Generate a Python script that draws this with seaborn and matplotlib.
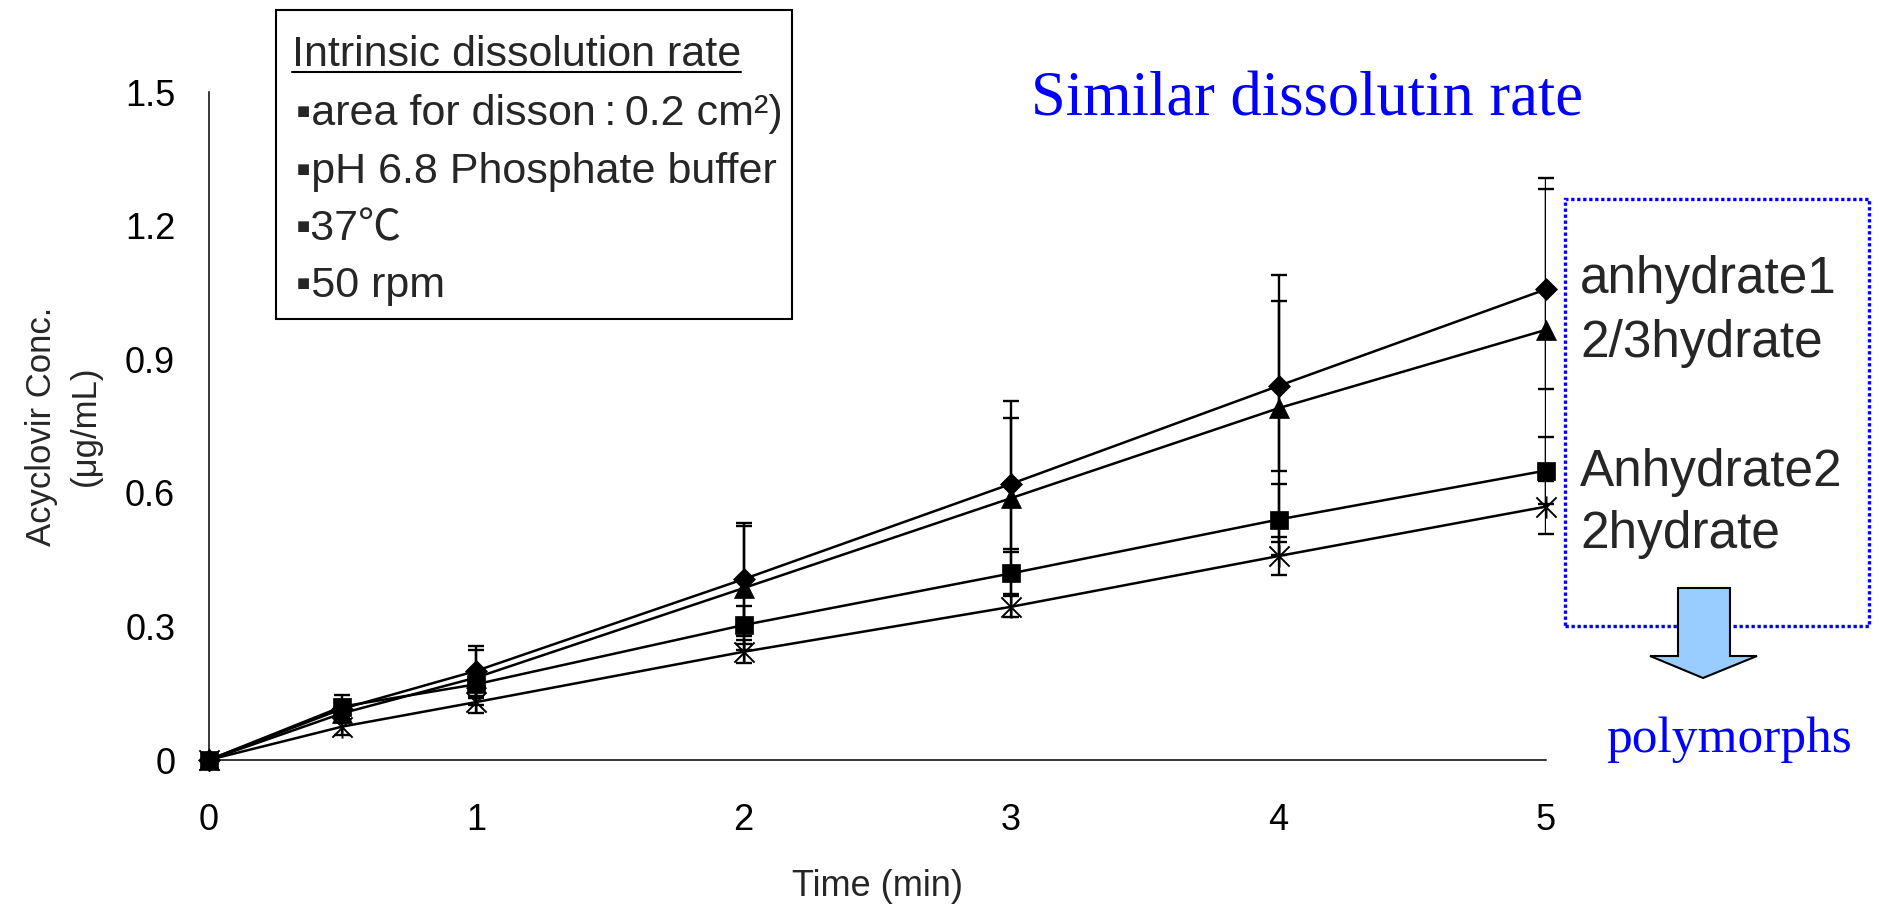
import matplotlib
matplotlib.use("Agg")
import matplotlib.pyplot as plt
from matplotlib.path import Path
from matplotlib.patches import Rectangle, Polygon
from matplotlib.lines import Line2D
import seaborn as sns
import pandas as pd

# data
time_min = [0, 0.5, 1, 2, 3, 4, 5]
anhydrate1 = [0, 0.115, 0.200, 0.406, 0.620, 0.840, 1.057]
anhydrate1_sd = [0, 0.020, 0.057, 0.127, 0.147, 0.190, 0.225]
hydrate_23 = [0, 0.105, 0.185, 0.386, 0.588, 0.790, 0.966]
hydrate_23_sd = [0, 0.020, 0.062, 0.139, 0.218, 0.300, 0.340]
anhydrate2 = [0, 0.120, 0.170, 0.303, 0.419, 0.540, 0.650]
anhydrate2_sd = [0, 0.026, 0.030, 0.043, 0.047, 0.080, 0.076]
hydrate_2 = [0, 0.075, 0.130, 0.243, 0.344, 0.458, 0.569]
hydrate_2_sd = [0, 0.018, 0.024, 0.026, 0.024, 0.043, 0.061]

y_ticks = [0, 0.3, 0.6, 0.9, 1.2, 1.5]
y_tick_labels = ["0", "0.3", "0.6", "0.9", "1.2", "1.5"]
x_ticks = [0, 1, 2, 3, 4, 5]

box_lines = ["▪area for disson\u2009:\u20090.2 cm²)", "▪pH 6.8 Phosphate buffer", "▪37℃", "▪50 rpm"]
series_names = ["anhydrate1", "2/3hydrate", "Anhydrate2", "2hydrate"]

W, H = 1879, 905


def fx(px):
    return px / W


def fy(py):
    return 1 - py / H


sns.set_theme(style="white")
plt.rcParams['font.family'] = ['Liberation Sans', 'Noto Sans CJK JP', 'DejaVu Sans']

# excel-like star marker: X plus vertical bar
star = Path([(-0.5, -0.5), (0.5, 0.5), (-0.5, 0.5), (0.5, -0.5), (0, -0.55), (0, 0.55)],
            [Path.MOVETO, Path.LINETO, Path.MOVETO, Path.LINETO, Path.MOVETO, Path.LINETO])

df = pd.DataFrame({"time": time_min, "a1": anhydrate1, "h23": hydrate_23,
                   "a2": anhydrate2, "h2": hydrate_2})

fig = plt.figure(figsize=(W / 100, H / 100), dpi=100)
ax = fig.add_axes([fx(208.5), fy(760), fx(1546) - fx(208.5), fy(92) - fy(760)])

series = [
    ("a1", anhydrate1_sd, "D", 11, "black"),
    ("h23", hydrate_23_sd, "^", 15, "black"),
    ("a2", anhydrate2_sd, "s", 13, "black"),
    ("h2", hydrate_2_sd, star, 16, "none"),
]
for col, sd, mk, ms, fc in series:
    ax.errorbar(df["time"], df[col], yerr=sd, fmt="none", ecolor="black",
                elinewidth=1.7, capsize=6, capthick=1.7, zorder=2)
    sns.lineplot(data=df, x="time", y=col, ax=ax, color="black", linewidth=1.8,
                 marker=mk, markersize=ms, markerfacecolor=fc,
                 markeredgecolor="black", markeredgewidth=1.4 if fc == "none" else 0.5,
                 errorbar=None, zorder=3)

for ln in ax.lines:
    ln.set_clip_on(False)

ax.set_xlim(0, 5)
ax.set_ylim(0, 1.5)
ax.set_xticks(x_ticks)
ax.set_yticks(y_ticks)
ax.set_yticklabels(y_tick_labels)
sns.despine(ax=ax)
for s in ["left", "bottom"]:
    ax.spines[s].set_color("black")
    ax.spines[s].set_linewidth(1.1)
ax.tick_params(axis="both", direction="in", length=9, width=1.1, colors="black",
               labelsize=26)
ax.tick_params(axis="x", pad=31)
ax.tick_params(axis="y", pad=24)

ax.set_xlabel("Time (min)", fontsize=26)
ax.xaxis.set_label_coords(0.5, -0.163)
ax.set_ylabel("Acyclovir Conc.\n(μg/mL)", fontsize=25, linespacing=1.4)
ax.yaxis.set_label_coords(-0.08, 0.5)

# info box top-left
fig.patches.append(Rectangle((fx(276), fy(319)), fx(792) - fx(276), fy(10) - fy(319),
                             transform=fig.transFigure, fill=False, edgecolor="black",
                             linewidth=1.5))
head = fig.text(fx(292), fy(66), "Intrinsic dissolution rate", fontsize=31, va="baseline")
for i, txt in enumerate(box_lines):
    fig.text(fx(296), fy(125 + 57.5 * i), txt, fontsize=31, va="baseline")

# blue notes
fig.text(fx(1307), fy(115), "Similar dissolutin rate", fontsize=45, color="#0000FF",
         family="Liberation Serif", ha="center", va="baseline")
fig.text(fx(1729), fy(752), "polymorphs", fontsize=37, color="#0000FF",
         family="Liberation Serif", ha="center", va="baseline")

# dotted box with series names
fig.patches.append(Rectangle((fx(1565), fy(626)), fx(1869) - fx(1565), fy(199) - fy(626),
                             transform=fig.transFigure, fill=False, edgecolor="#0000FF",
                             linewidth=2.4, linestyle=(0, (1, 0.8)), zorder=1))
for name, base in zip(series_names, [293, 357, 486, 548]):
    fig.text(fx(1580), fy(base), name, fontsize=37, va="baseline")

arrow_px = [(1678, 588), (1730, 588), (1730, 656), (1757, 656), (1703, 678),
            (1650, 656), (1678, 656)]
fig.patches.append(Polygon([(fx(x), fy(y)) for x, y in arrow_px], closed=True,
                           transform=fig.transFigure, facecolor="#99CCFF",
                           edgecolor="black", linewidth=1.5, zorder=5))

# underline the box heading
fig.canvas.draw()
bb = head.get_window_extent()
fig.add_artist(Line2D([bb.x0 / W, bb.x1 / W], [fy(72), fy(72)], transform=fig.transFigure,
                      color="black", linewidth=1.5))

fig.savefig("out.png", dpi=100)
